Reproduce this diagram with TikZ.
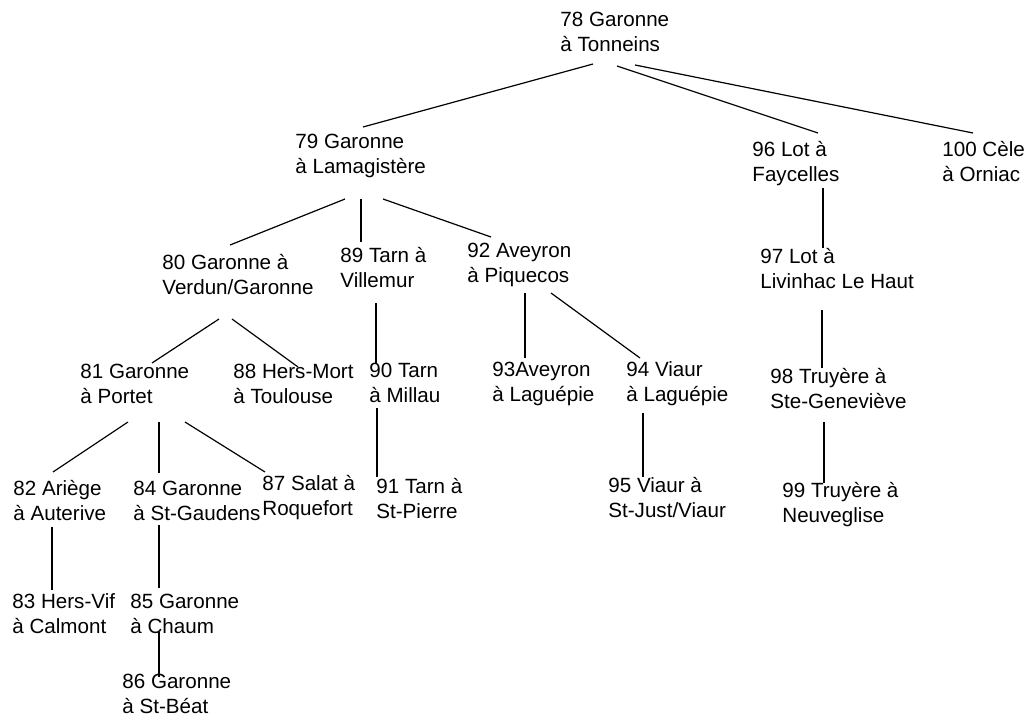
\documentclass[tikz,border=0pt]{standalone}
\usepackage{fontspec}
\setmainfont{Liberation Sans}
\usepackage{tikz}
\tikzset{
  station/.style={
    anchor = base west,
    align = left,
    inner sep = 0pt,
    font = \fontsize{10.3}{12.5}\selectfont
  },
  branch/.style={
    line width = 0.6pt
  },
}

\begin{document}
\begin{tikzpicture}[x=0.5pt, y=-0.5pt]
    \useasboundingbox (0,0) rectangle (1026,717);
    % stations (placed by the baseline of their last line)
    \node[station] (s78) at (560,52) {78 Garonne\\à Tonneins};
    \node[station] (s79) at (295,173) {79 Garonne\\à Lamagistère};
    \node[station] (s96) at (752,181) {96 Lot à\\Faycelles};
    \node[station] (s100) at (942,181) {100 Cèle\\à Orniac};
    \node[station] (s80) at (162,294) {80 Garonne à\\Verdun/Garonne};
    \node[station] (s89) at (340,287) {89 Tarn à\\Villemur};
    \node[station] (s92) at (467,282) {92 Aveyron\\à Piquecos};
    \node[station] (s97) at (760,288) {97 Lot à\\Livinhac Le Haut};
    \node[station] (s81) at (80,403) {81 Garonne\\à Portet};
    \node[station] (s88) at (233,403) {88 Hers-Mort\\à Toulouse};
    \node[station] (s90) at (369,402) {90 Tarn\\à Millau};
    \node[station] (s93) at (492,401) {93Aveyron\\à Laguépie};
    \node[station] (s94) at (626,401) {94 Viaur\\à Laguépie};
    \node[station] (s98) at (770,408) {98 Truyère à\\Ste-Geneviève};
    \node[station] (s82) at (13,520) {82 Ariège\\à Auterive};
    \node[station] (s84) at (133,520) {84 Garonne\\à St-Gaudens};
    \node[station] (s87) at (262,515) {87 Salat à\\Roquefort};
    \node[station] (s91) at (376,518) {91 Tarn à\\St-Pierre};
    \node[station] (s95) at (608,517) {95 Viaur à\\St-Just/Viaur};
    \node[station] (s99) at (782,522) {99 Truyère à\\Neuveglise};
    \node[station] (s83) at (12,633) {83 Hers-Vif\\à Calmont};
    \node[station] (s85) at (130,633) {85 Garonne\\à Chaum};
    \node[station] (s86) at (122,713) {86 Garonne\\à St-Béat};
    % branches
    \draw[branch] ([shift={(33,12)}]s78.base west) -- ([shift={(68,-46)}]s79.base west);
    \draw[branch] ([shift={(57,14)}]s78.base west) -- ([shift={(66,-48)}]s96.base west);
    \draw[branch] ([shift={(75,13)}]s78.base west) -- ([shift={(31,-48)}]s100.base west);
    \draw[branch] ([shift={(50,26)}]s79.base west) -- ([shift={(68,-49)}]s80.base west);
    \draw[branch] ([shift={(66,26)}]s79.base west) -- ([shift={(21,-45)}]s89.base west);
    \draw[branch] ([shift={(88,26)}]s79.base west) -- ([shift={(24,-45)}]s92.base west);
    \draw[branch] ([shift={(71,7)}]s96.base west) -- ([shift={(63,-40)}]s97.base west);
    \draw[branch] ([shift={(57,25)}]s80.base west) -- ([shift={(72,-40)}]s81.base west);
    \draw[branch] ([shift={(70,25)}]s80.base west) -- ([shift={(65,-36)}]s88.base west);
    \draw[branch] ([shift={(36,16)}]s89.base west) -- ([shift={(7,-39)}]s90.base west);
    \draw[branch] ([shift={(58,11)}]s92.base west) -- ([shift={(33,-43)}]s93.base west);
    \draw[branch] ([shift={(84,11)}]s92.base west) -- ([shift={(14,-43)}]s94.base west);
    \draw[branch] ([shift={(62,22)}]s97.base west) -- ([shift={(52,-40)}]s98.base west);
    \draw[branch] ([shift={(48,19)}]s81.base west) -- ([shift={(40,-48)}]s82.base west);
    \draw[branch] ([shift={(79,19)}]s81.base west) -- ([shift={(26,-47)}]s84.base west);
    \draw[branch] ([shift={(105,19)}]s81.base west) -- ([shift={(3,-43)}]s87.base west);
    \draw[branch] ([shift={(8,6)}]s90.base west) -- ([shift={(1,-41)}]s91.base west);
    \draw[branch] ([shift={(17,12)}]s94.base west) -- ([shift={(35,-40)}]s95.base west);
    \draw[branch] ([shift={(54,14)}]s98.base west) -- ([shift={(42,-39)}]s99.base west);
    \draw[branch] ([shift={(39,7)}]s82.base west) -- ([shift={(40,-43)}]s83.base west);
    \draw[branch] ([shift={(26,5)}]s84.base west) -- ([shift={(29,-45)}]s85.base west);
    \draw[branch] ([shift={(29,-1)}]s85.base west) -- ([shift={(37,-36)}]s86.base west);
\end{tikzpicture}
\end{document}
